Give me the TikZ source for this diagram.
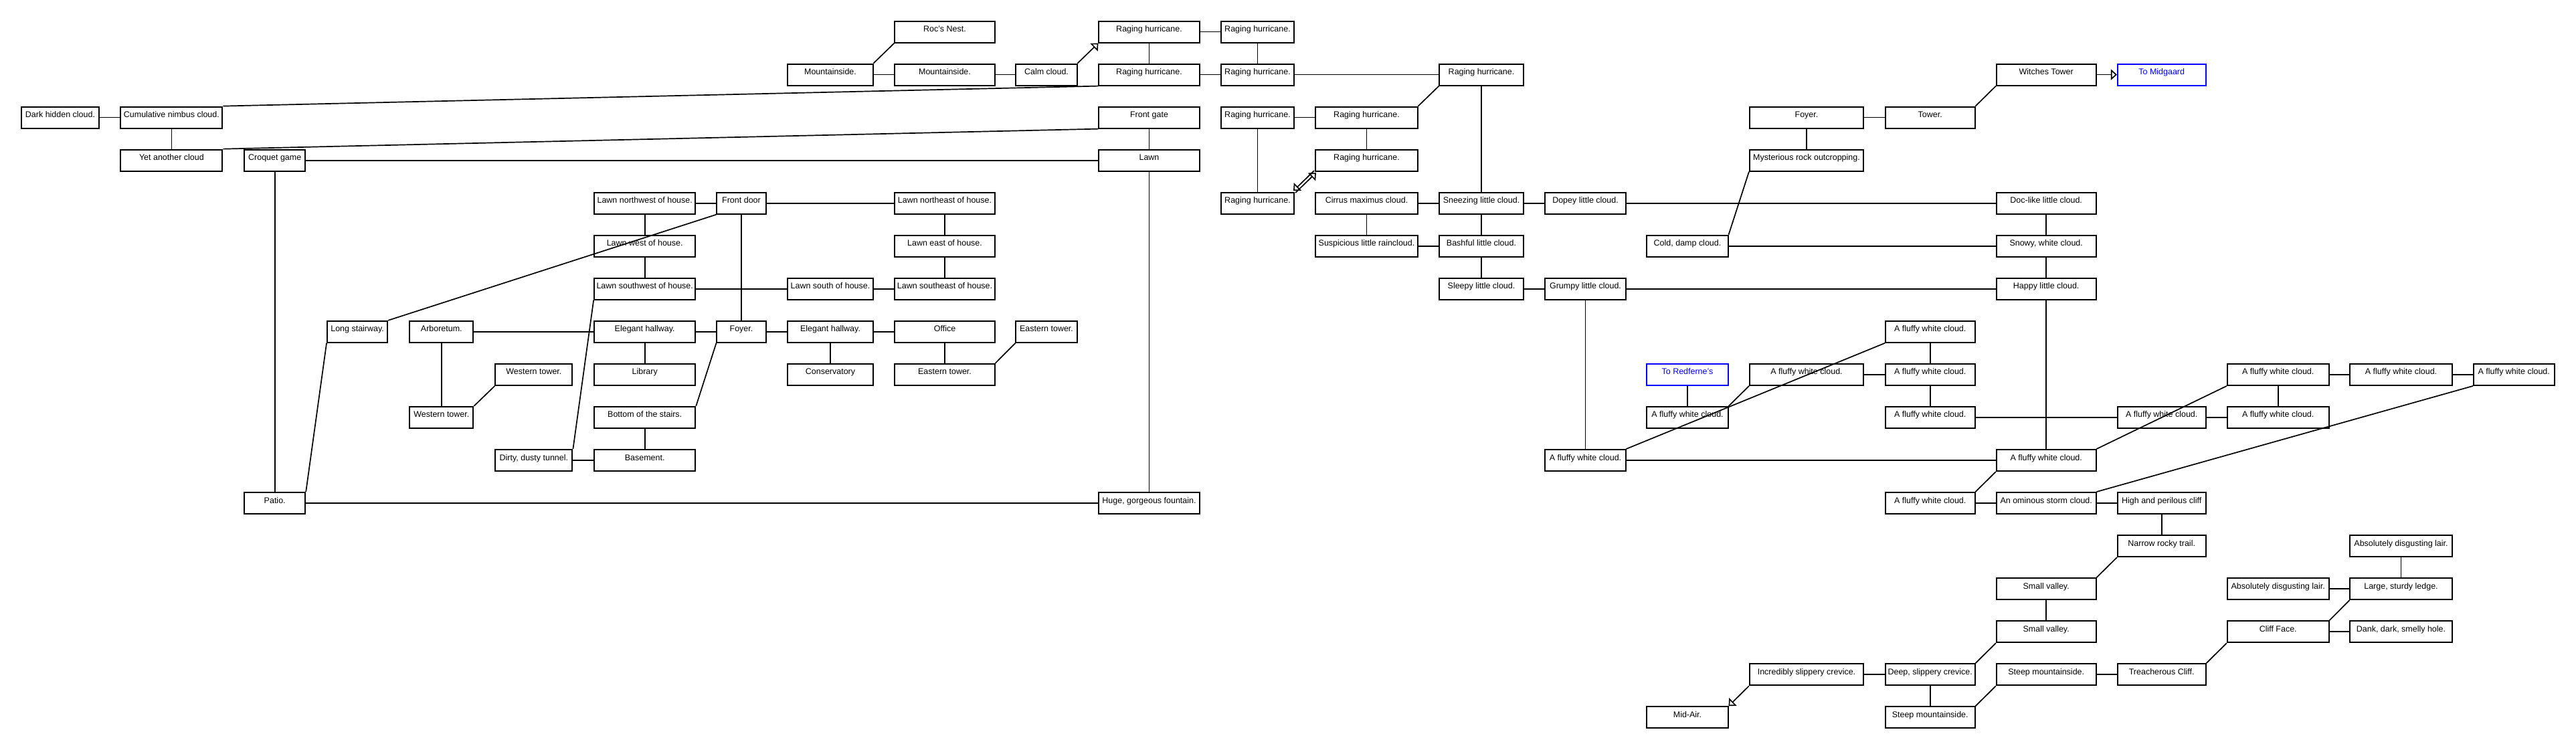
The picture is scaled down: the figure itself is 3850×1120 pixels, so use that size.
\documentclass[tikz,border=0pt]{standalone}
\usepackage{fontspec}
\setmainfont{Liberation Sans}
\usetikzlibrary{arrows.meta, calc}

\begin{document}
\begin{tikzpicture}[x = 0.01cm, y = -0.01cm]
\tikzstyle{VertexStyle}=[
shape = rectangle,
minimum height = 0.32cm,
inner sep = 0pt,
text height = 0.095cm,
text depth = 0.095cm,
font = \fontsize{3.55}{4}\selectfont,
line width = 0.02cm,
draw]
\tikzstyle{ExitStyle}=[VertexStyle, draw = blue, text = blue]
\tikzstyle{EdgeStyle}=[line width = 0.017cm]
\tikzstyle{post}=[EdgeStyle, -{Triangle[open, length = 0.09cm, width = 0.16cm]}]
\tikzstyle{ColA}=[minimum width = 1.15cm]
\tikzstyle{ColB}=[minimum width = 1.52cm]
\tikzstyle{ColC}=[minimum width = 0.91cm]
\tikzstyle{ColD}=[minimum width = 0.90cm]
\tikzstyle{ColE}=[minimum width = 0.95cm]
\tikzstyle{ColF}=[minimum width = 1.15cm]
\tikzstyle{ColG}=[minimum width = 1.51cm]
\tikzstyle{ColH}=[minimum width = 0.73cm]
\tikzstyle{ColI}=[minimum width = 1.27cm]
\tikzstyle{ColJ}=[minimum width = 1.49cm]
\tikzstyle{ColK}=[minimum width = 0.91cm]
\tikzstyle{ColL}=[minimum width = 1.50cm]
\tikzstyle{ColM}=[minimum width = 1.08cm]
\tikzstyle{ColN}=[minimum width = 1.52cm]
\tikzstyle{ColO}=[minimum width = 1.25cm]
\tikzstyle{ColP}=[minimum width = 1.20cm]
\tikzstyle{ColQ}=[minimum width = 1.21cm]
\tikzstyle{ColR}=[minimum width = 1.70cm]
\tikzstyle{ColS}=[minimum width = 1.335cm]
\tikzstyle{ColT}=[minimum width = 1.485cm]
\tikzstyle{ColU}=[minimum width = 1.315cm]
\tikzstyle{ColV}=[minimum width = 1.515cm]
\tikzstyle{ColW}=[minimum width = 1.52cm]
\tikzstyle{ColX}=[minimum width = 1.205cm]
\useasboundingbox (0,0) rectangle (3850,1120);

% row 1
\node[VertexStyle, ColJ] (rocsnest) at (1412, 47.5) {Roc's Nest.};
\node[VertexStyle, ColL] (rh1) at (1717.5, 47.5) {Raging hurricane.};
\node[VertexStyle, ColM] (rh2) at (1879.5, 47.5) {Raging hurricane.};
% row 2
\node[VertexStyle, ColI] (mtn1) at (1241, 111.55) {Mountainside.};
\node[VertexStyle, ColJ] (mtn2) at (1412, 111.55) {Mountainside.};
\node[VertexStyle, ColK] (calm) at (1564, 111.55) {Calm cloud.};
\node[VertexStyle, ColL] (rh3) at (1717.5, 111.55) {Raging hurricane.};
\node[VertexStyle, ColM] (rh4) at (1879.5, 111.55) {Raging hurricane.};
\node[VertexStyle, ColO] (rh5) at (2214, 111.55) {Raging hurricane.};
\node[VertexStyle, ColT] (witches) at (3058.2, 111.55) {Witches Tower};
\node[ExitStyle, ColU] (midgaard) at (3230.7, 111.55) {To Midgaard};
% row 3
\node[VertexStyle, ColA] (darkcloud) at (90, 175.6) {Dark hidden cloud.};
\node[VertexStyle, ColB] (cumulus) at (256.4, 175.6) {Cumulative nimbus cloud.};
\node[VertexStyle, ColL] (frontgate) at (1717.5, 175.6) {Front gate};
\node[VertexStyle, ColM] (rh6) at (1879.5, 175.6) {Raging hurricane.};
\node[VertexStyle, ColN] (rh7) at (2042.5, 175.6) {Raging hurricane.};
\node[VertexStyle, ColR] (foyerb) at (2700, 175.6) {Foyer.};
\node[VertexStyle, ColS] (tower) at (2884.7, 175.6) {Tower.};
% row 4
\node[VertexStyle, ColB] (yetcloud) at (256.4, 239.65) {Yet another cloud};
\node[VertexStyle, ColC] (croquet) at (410.7, 239.65) {Croquet game};
\node[VertexStyle, ColL] (lawn) at (1717.5, 239.65) {Lawn};
\node[VertexStyle, ColN] (rh8) at (2042.5, 239.65) {Raging hurricane.};
\node[VertexStyle, ColR] (rock) at (2700, 239.65) {Mysterious rock outcropping.};
% row 5
\node[VertexStyle, ColG] (lawnnw) at (963.7, 303.7) {Lawn northwest of house.};
\node[VertexStyle, ColH] (frontdoor) at (1108, 303.7) {Front door};
\node[VertexStyle, ColJ] (lawnne) at (1412, 303.7) {Lawn northeast of house.};
\node[VertexStyle, ColM] (rh9) at (1879.5, 303.7) {Raging hurricane.};
\node[VertexStyle, ColN] (cirrus) at (2042.5, 303.7) {Cirrus maximus cloud.};
\node[VertexStyle, ColO] (sneezy) at (2214, 303.7) {Sneezing little cloud.};
\node[VertexStyle, ColP] (dopey) at (2369.5, 303.7) {Dopey little cloud.};
\node[VertexStyle, ColT] (doc) at (3058.2, 303.7) {Doc-like little cloud.};
% row 6
\node[VertexStyle, ColG] (lawnw) at (963.7, 367.75) {Lawn west of house.};
\node[VertexStyle, ColJ] (lawne) at (1412, 367.75) {Lawn east of house.};
\node[VertexStyle, ColN] (raincloud) at (2042.5, 367.75) {Suspicious little raincloud.};
\node[VertexStyle, ColO] (bashful) at (2214, 367.75) {Bashful little cloud.};
\node[VertexStyle, ColQ] (colddamp) at (2522, 367.75) {Cold, damp cloud.};
\node[VertexStyle, ColT] (snowy) at (3058.2, 367.75) {Snowy, white cloud.};
% row 7
\node[VertexStyle, ColG] (lawnsw) at (963.7, 431.8) {Lawn southwest of house.};
\node[VertexStyle, ColI] (lawns) at (1241, 431.8) {Lawn south of house.};
\node[VertexStyle, ColJ] (lawnse) at (1412, 431.8) {Lawn southeast of house.};
\node[VertexStyle, ColO] (sleepy) at (2214, 431.8) {Sleepy little cloud.};
\node[VertexStyle, ColP] (grumpy) at (2369.5, 431.8) {Grumpy little cloud.};
\node[VertexStyle, ColT] (happy) at (3058.2, 431.8) {Happy little cloud.};
% row 8
\node[VertexStyle, ColD] (stairway) at (534.1, 495.85) {Long stairway.};
\node[VertexStyle, ColE] (arboretum) at (659.8, 495.85) {Arboretum.};
\node[VertexStyle, ColG] (hallwaya) at (963.7, 495.85) {Elegant hallway.};
\node[VertexStyle, ColH] (foyera) at (1108, 495.85) {Foyer.};
\node[VertexStyle, ColI] (hallwayb) at (1241, 495.85) {Elegant hallway.};
\node[VertexStyle, ColJ] (office) at (1412, 495.85) {Office};
\node[VertexStyle, ColK] (etowera) at (1564, 495.85) {Eastern tower.};
\node[VertexStyle, ColS] (fluffy1) at (2884.7, 495.85) {A fluffy white cloud.};
% row 9
\node[VertexStyle, ColF] (wtowera) at (797.9, 559.9) {Western tower.};
\node[VertexStyle, ColG] (library) at (963.7, 559.9) {Library};
\node[VertexStyle, ColI] (conservatory) at (1241, 559.9) {Conservatory};
\node[VertexStyle, ColJ] (etowerb) at (1412, 559.9) {Eastern tower.};
\node[ExitStyle, ColQ] (redferne) at (2522, 559.9) {To Redferne's};
\node[VertexStyle, ColR] (fluffy2) at (2700, 559.9) {A fluffy white cloud.};
\node[VertexStyle, ColS] (fluffy3) at (2884.7, 559.9) {A fluffy white cloud.};
\node[VertexStyle, ColV] (fluffy4) at (3404.7, 559.9) {A fluffy white cloud.};
\node[VertexStyle, ColW] (fluffy5) at (3588.5, 559.9) {A fluffy white cloud.};
\node[VertexStyle, ColX] (fluffy6) at (3757.2, 559.9) {A fluffy white cloud.};
% row 10
\node[VertexStyle, ColE] (wtowerb) at (659.8, 623.95) {Western tower.};
\node[VertexStyle, ColG] (stairs) at (963.7, 623.95) {Bottom of the stairs.};
\node[VertexStyle, ColQ] (fluffy7) at (2522, 623.95) {A fluffy white cloud.};
\node[VertexStyle, ColS] (fluffy8) at (2884.7, 623.95) {A fluffy white cloud.};
\node[VertexStyle, ColU] (fluffy9) at (3230.7, 623.95) {A fluffy white cloud.};
\node[VertexStyle, ColV] (fluffy10) at (3404.7, 623.95) {A fluffy white cloud.};
% row 11
\node[VertexStyle, ColF] (tunnel) at (797.9, 688) {Dirty, dusty tunnel.};
\node[VertexStyle, ColG] (basement) at (963.7, 688) {Basement.};
\node[VertexStyle, ColP] (fluffy11) at (2369.5, 688) {A fluffy white cloud.};
\node[VertexStyle, ColT] (fluffy12) at (3058.2, 688) {A fluffy white cloud.};
% row 12
\node[VertexStyle, ColC] (patio) at (410.7, 752.05) {Patio.};
\node[VertexStyle, ColL] (fountain) at (1717.5, 752.05) {Huge, gorgeous fountain.};
\node[VertexStyle, ColS] (fluffy13) at (2884.7, 752.05) {A fluffy white cloud.};
\node[VertexStyle, ColT] (storm) at (3058.2, 752.05) {An ominous storm cloud.};
\node[VertexStyle, ColU] (cliff) at (3230.7, 752.05) {High and perilous cliff};
% row 13
\node[VertexStyle, ColU] (trail) at (3230.7, 816.1) {Narrow rocky trail.};
\node[VertexStyle, ColW] (laira) at (3588.5, 816.1) {Absolutely disgusting lair.};
% row 14
\node[VertexStyle, ColT] (valleya) at (3058.2, 880.15) {Small valley.};
\node[VertexStyle, ColV] (lairb) at (3404.7, 880.15) {Absolutely disgusting lair.};
\node[VertexStyle, ColW] (ledge) at (3588.5, 880.15) {Large, sturdy ledge.};
% row 15
\node[VertexStyle, ColT] (valleyb) at (3058.2, 944.2) {Small valley.};
\node[VertexStyle, ColV] (cliffface) at (3404.7, 944.2) {Cliff Face.};
\node[VertexStyle, ColW] (hole) at (3588.5, 944.2) {Dank, dark, smelly hole.};
% row 16
\node[VertexStyle, ColR] (crevicea) at (2700, 1008.25) {Incredibly slippery crevice.};
\node[VertexStyle, ColS] (creviceb) at (2884.7, 1008.25) {Deep, slippery crevice.};
\node[VertexStyle, ColT] (steepa) at (3058.2, 1008.25) {Steep mountainside.};
\node[VertexStyle, ColU] (treach) at (3230.7, 1008.25) {Treacherous Cliff.};
% row 17
\node[VertexStyle, ColQ] (midair) at (2522, 1072.3) {Mid-Air.};
\node[VertexStyle, ColS] (steepb) at (2884.7, 1072.3) {Steep mountainside.};

% clouds and the house
\draw[EdgeStyle] (darkcloud) -- (cumulus);
\draw[EdgeStyle] (cumulus) -- (yetcloud);
\draw[EdgeStyle] (cumulus.north east) -- (rh3.south west);
\draw[EdgeStyle] (yetcloud.north east) -- (frontgate.south west);
\draw[EdgeStyle] (croquet) -- (lawn);
\draw[EdgeStyle] (croquet) -- (patio);
\draw[EdgeStyle] (frontgate) -- (lawn);
\draw[EdgeStyle] (lawn) -- (fountain);
\draw[EdgeStyle] (patio) -- (fountain);
\draw[EdgeStyle] (stairway.south west) -- (patio.north east);
\draw[EdgeStyle] (stairway.north east) -- (frontdoor.south west);
\draw[EdgeStyle] (arboretum) -- (hallwaya);
\draw[EdgeStyle] (arboretum) -- (wtowerb);
\draw[EdgeStyle] (wtowerb.north east) -- (wtowera.south west);
\draw[EdgeStyle] (lawnsw.south west) -- (tunnel.north east);
\draw[EdgeStyle] (tunnel) -- (basement);
\draw[EdgeStyle] (stairs) -- (basement);
\draw[EdgeStyle] (stairs.north east) -- (foyera.south west);
\draw[EdgeStyle] (lawnnw) -- (lawnw);
\draw[EdgeStyle] (lawnw) -- (lawnsw);
\draw[EdgeStyle] (lawnnw) -- (frontdoor);
\draw[EdgeStyle] (frontdoor) -- (lawnne);
\draw[EdgeStyle] (frontdoor) -- (foyera);
\draw[EdgeStyle] (lawnsw) -- (lawns);
\draw[EdgeStyle] (lawns) -- (lawnse);
\draw[EdgeStyle] (lawnne) -- (lawne);
\draw[EdgeStyle] (lawne) -- (lawnse);
\draw[EdgeStyle] (hallwaya) -- (foyera);
\draw[EdgeStyle] (foyera) -- (hallwayb);
\draw[EdgeStyle] (hallwayb) -- (office);
\draw[EdgeStyle] (hallwaya) -- (library);
\draw[EdgeStyle] (hallwayb) -- (conservatory);
\draw[EdgeStyle] (office) -- (etowerb);
\draw[EdgeStyle] (etowerb.north east) -- (etowera.south west);
% mountains and hurricanes
\draw[EdgeStyle] (mtn1.north east) -- (rocsnest.south west);
\draw[EdgeStyle] (mtn1) -- (mtn2);
\draw[EdgeStyle] (mtn2) -- (calm);
\draw[post] (calm.north east) -- (rh1.south west);
\draw[EdgeStyle] (rh1) -- (rh2);
\draw[EdgeStyle] (rh1) -- (rh3);
\draw[EdgeStyle] (rh2) -- (rh4);
\draw[EdgeStyle] (rh3) -- (rh4);
\draw[EdgeStyle] (rh4) -- (rh5);
\draw[EdgeStyle] (rh6) -- (rh7);
\draw[EdgeStyle] (rh6) -- (rh9);
\draw[EdgeStyle] (rh7) -- (rh8);
\draw[EdgeStyle] (rh7.north east) -- (rh5.south west);
\draw[post] ($(rh9.north east)+(1.5,1.5)$) -- ($(rh8.south west)+(1.5,1.5)$);
\draw[post] ($(rh8.south west)+(-1.5,-1.5)$) -- ($(rh9.north east)+(-1.5,-1.5)$);
% little clouds
\draw[EdgeStyle] (cirrus) -- (sneezy);
\draw[EdgeStyle] (cirrus) -- (raincloud);
\draw[EdgeStyle] (raincloud) -- (bashful);
\draw[EdgeStyle] (rh5) -- (sneezy);
\draw[EdgeStyle] (sneezy) -- (bashful);
\draw[EdgeStyle] (bashful) -- (sleepy);
\draw[EdgeStyle] (sneezy) -- (dopey);
\draw[EdgeStyle] (dopey) -- (doc);
\draw[EdgeStyle] (sleepy) -- (grumpy);
\draw[EdgeStyle] (grumpy) -- (happy);
\draw[EdgeStyle] (grumpy) -- (fluffy11);
\draw[EdgeStyle] (colddamp.north east) -- (rock.south west);
\draw[EdgeStyle] (colddamp) -- (snowy);
\draw[EdgeStyle] (foyerb) -- (rock);
\draw[EdgeStyle] (foyerb) -- (tower);
\draw[EdgeStyle] (tower.north east) -- (witches.south west);
\draw[post] (witches) -- (midgaard);
\draw[EdgeStyle] (doc) -- (snowy);
\draw[EdgeStyle] (snowy) -- (happy);
\draw[EdgeStyle] (happy) -- (fluffy12);
% fluffy clouds
\draw[EdgeStyle] (redferne) -- (fluffy7);
\draw[EdgeStyle] (fluffy7.north east) -- (fluffy2.south west);
\draw[EdgeStyle] (fluffy11.north east) -- (fluffy1.south west);
\draw[EdgeStyle] (fluffy2) -- (fluffy3);
\draw[EdgeStyle] (fluffy1) -- (fluffy3);
\draw[EdgeStyle] (fluffy3) -- (fluffy8);
\draw[EdgeStyle] (fluffy8) -- (fluffy9);
\draw[EdgeStyle] (fluffy11) -- (fluffy12);
\draw[EdgeStyle] (fluffy12.north east) -- (fluffy4.south west);
\draw[EdgeStyle] (fluffy12.south west) -- (fluffy13.north east);
\draw[EdgeStyle] (fluffy13) -- (storm);
\draw[EdgeStyle] (storm.north east) -- (fluffy6.south west);
\draw[EdgeStyle] (storm) -- (cliff);
\draw[EdgeStyle] (fluffy9) -- (fluffy10);
\draw[EdgeStyle] (fluffy4) -- (fluffy10);
\draw[EdgeStyle] (fluffy4) -- (fluffy5);
\draw[EdgeStyle] (fluffy5) -- (fluffy6);
% cliffs and valleys
\draw[EdgeStyle] (cliff) -- (trail);
\draw[EdgeStyle] (trail.south west) -- (valleya.north east);
\draw[EdgeStyle] (valleya) -- (valleyb);
\draw[EdgeStyle] (valleyb.south west) -- (creviceb.north east);
\draw[EdgeStyle] (crevicea) -- (creviceb);
\draw[post] (crevicea.south west) -- (midair.north east);
\draw[EdgeStyle] (creviceb) -- (steepb);
\draw[EdgeStyle] (steepb.north east) -- (steepa.south west);
\draw[EdgeStyle] (steepa) -- (treach);
\draw[EdgeStyle] (treach.north east) -- (cliffface.south west);
\draw[EdgeStyle] (cliffface) -- (hole);
\draw[EdgeStyle] (cliffface.north east) -- (ledge.south west);
\draw[EdgeStyle] (lairb) -- (ledge);
\draw[EdgeStyle] (laira) -- (ledge);
\end{tikzpicture}
\end{document}
